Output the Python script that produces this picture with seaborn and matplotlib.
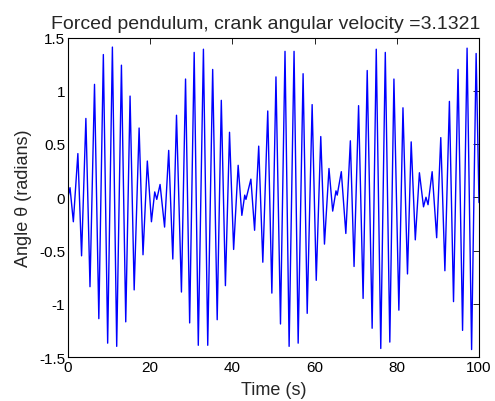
import matplotlib
matplotlib.use("Agg")
import matplotlib.pyplot as plt
import seaborn as sns
import pandas as pd
from matplotlib.ticker import FuncFormatter

# Extrema of the pendulum angle (time in s, angle in rad)
time_s = [
    0.0, 0.49, 1.3, 2.4, 3.3, 4.35, 5.35, 6.45, 7.5, 8.6,
    9.65, 10.8, 11.85, 13.0, 14.05, 15.1, 16.1, 17.3, 18.25, 19.3,
    20.3, 21.1, 21.6, 22.4, 23.5, 24.5, 25.5, 26.4, 27.6, 28.6,
    29.6, 30.7, 31.7, 32.95, 34.0, 35.2, 36.3, 37.3, 38.3, 39.3,
    40.3, 41.4, 42.3, 43.0, 43.3, 44.5, 45.4, 46.4, 47.4, 48.6,
    49.6, 50.6, 51.7, 52.8, 53.8, 55.0, 56.0, 57.2, 58.2, 59.4,
    60.4, 61.5, 62.4, 63.5, 64.4, 65.2, 65.5, 66.5, 67.6, 68.7,
    69.6, 70.7, 71.8, 72.8, 74.0, 75.0, 76.1, 77.2, 78.3, 79.3,
    80.5, 81.5, 82.6, 83.5, 84.5, 85.5, 86.5, 87.1, 87.6, 88.6,
    89.7, 90.7, 91.7, 92.8, 93.8, 94.9, 96.0, 97.1, 98.2, 99.3,
    100.0,
]
angle_rad = [
    0.0, 0.09, -0.23, 0.41, -0.55, 0.74, -0.84, 1.06, -1.14, 1.34,
    -1.37, 1.41, -1.40, 1.24, -1.17, 0.95, -0.87, 0.65, -0.54, 0.34,
    -0.23, 0.05, -0.02, 0.12, -0.28, 0.44, -0.58, 0.77, -0.89, 1.11,
    -1.18, 1.36, -1.39, 1.39, -1.39, 1.20, -1.15, 0.91, -0.83, 0.61,
    -0.49, 0.30, -0.17, 0.02, -0.02, 0.17, -0.31, 0.48, -0.61, 0.81,
    -0.90, 1.13, -1.19, 1.37, -1.40, 1.37, -1.37, 1.16, -1.09, 0.87,
    -0.78, 0.57, -0.44, 0.27, -0.13, 0.06, 0.02, 0.24, -0.34, 0.53,
    -0.65, 0.86, -0.95, 1.19, -1.23, 1.39, -1.42, 1.36, -1.36, 1.11,
    -1.06, 0.84, -0.72, 0.52, -0.40, 0.23, -0.09, 0.00, -0.07, 0.24,
    -0.38, 0.56, -0.69, 0.90, -0.98, 1.20, -1.25, 1.40, -1.43, 1.35,
    -0.05,
]
x_ticks = [0, 20, 40, 60, 80, 100]
y_ticks = [-1.5, -1, -0.5, 0, 0.5, 1, 1.5]
title = "Forced pendulum, crank angular velocity =3.1321"

sns.set_style("white")
plt.rcParams["font.family"] = ["Liberation Sans", "DejaVu Sans"]

df = pd.DataFrame({"t": time_s, "theta": angle_rad})

fig = plt.figure(figsize=(4.95, 4.02), dpi=100)
ax = fig.add_axes([68 / 495, 1 - 358 / 402, (479 - 68) / 495, (358 - 38.5) / 402])
sns.lineplot(data=df, x="t", y="theta", ax=ax, color="#0000FF", linewidth=1.0, sort=False)

ax.set_xlim(0, 100)
ax.set_ylim(-1.5, 1.5)
ax.set_xticks(x_ticks)
ax.set_yticks(y_ticks)
ax.yaxis.set_major_formatter(FuncFormatter(lambda v, p: f"{v:g}"))
ax.tick_params(direction="in", length=4, width=0.6, top=True, right=True,
               labelsize=11, pad=2, colors="black")
for s in ax.spines.values():
    s.set_visible(True)
    s.set_color("black")
    s.set_linewidth(0.8)
ax.set_xlabel("Time (s)", fontsize=13, labelpad=5)
ax.set_ylabel("Angle \u03b8 (radians)", fontsize=13, labelpad=5)
ax.set_title(title, fontsize=14, pad=7, x=0.482)

fig.savefig("out.png", dpi=100)
